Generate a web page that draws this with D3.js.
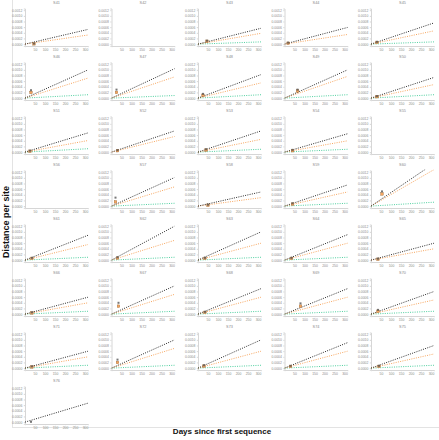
<!DOCTYPE html>
<html><head><meta charset="utf-8">
<script src="https://cdn.jsdelivr.net/npm/d3@7"></script>
<style>body{margin:0;background:#fff}svg{display:block}</style>
</head><body><svg id="c" width="439" height="440"></svg>
<script>
// ---- data ----
const samples = ["S41","S42","S43","S44","S45","S46","S47","S48","S49","S50",
  "S51","S52","S53","S54","S55","S56","S57","S58","S59","S60",
  "S61","S62","S63","S64","S65","S66","S67","S68","S69","S70",
  "S71","S72","S73","S74","S75","S76"];
// slopes: distance per site per day (x1e-6); null = no line
const rateBlack  = [1.65,null,1.78,1.87,2.38,3.17,3.30,2.64,3.17,2.32,
  2.16,2.38,2.38,2.06,null,null,3.21,1.59,2.38,4.80,
  2.79,3.81,3.17,2.86,1.90,1.90,3.17,2.86,2.86,2.54,
  1.90,3.17,3.17,2.86,2.54,2.13];
const rateOrange = [1.02,null,1.21,1.08,1.49,2.25,2.38,1.71,2.44,1.52,
  1.30,1.75,1.43,1.27,null,null,2.16,0.95,1.59,4.10,
  1.75,2.22,1.90,1.90,1.27,1.27,2.22,1.90,1.90,1.59,
  1.27,2.22,1.90,1.90,1.59,null];
const rateGreen  = [null,null,0.25,null,0.25,0.38,0.29,0.38,0.38,0.38,
  0.38,null,0.32,0.32,null,null,0.32,null,0.32,0.44,
  0.32,0.32,0.32,0.32,null,0.32,0.32,0.32,0.32,0.32,
  0.32,0.32,0.32,0.32,0.32,null];
// observed sample points (day, distance per site)
const pointDay    = [45,null,45,18,30,30,25,25,65,30, 25,30,40,40,null,null,20,50,40,55,
  35,30,35,35,35,35,35,35,80,35, 35,30,30,30,40,30];
const pointBlack  = [0.00002,null,0.00012,0.00005,0.00008,0.00028,0.0003,0.00015,0.0003,0.00007,
  0.00005,0.00007,0.0001,0.00008,null,null,0.0003,0.00005,0.0001,0.00052,
  0.00008,0.0001,0.00008,0.00008,0.00005,0.00006,0.0004,0.00008,0.00038,0.00015,
  0.00006,0.0003,0.0001,0.00008,0.00008,0.00001];
const pointOrange = [0.00001,null,0.0001,0.00003,0.00006,0.0002,0.0002,0.0001,0.00025,0.00005,
  0.00003,0.00005,0.00007,0.00005,null,null,0.00015,0.00003,0.00007,0.00043,
  0.00006,0.00007,0.00006,0.00006,0.00003,0.00004,0.00028,0.00006,0.00028,0.0001,
  0.00004,0.0002,0.00007,0.00006,0.00006,null];
const yTicks = [0,0.0002,0.0004,0.0006,0.0008,0.0010,0.0012];
const xTicks = [50,100,150,200,250,300];
const xMax = 315;

// ---- layout ----
const svg = d3.select("#c");
const ncol = 5, colPitch = 86.5, rowPitch = 54, x0 = 25, pw = 63;
const col = {black:"#2b2b2b", orange:"#f6a55e", green:"#4fcf9f", axis:"#d6d6d6", text:"#8a8a8a"};
const font = "Liberation Sans, Arial, sans-serif";

svg.append("line").attr("x1",12.5).attr("x2",12.5).attr("y1",0).attr("y2",427.5).attr("stroke","#e3e3e3");
svg.append("line").attr("x1",12).attr("x2",439).attr("y1",427.5).attr("y2",427.5).attr("stroke","#e3e3e3");

samples.forEach((s,i)=>{
  const c = i % ncol, r = Math.floor(i / ncol);
  const left = x0 + c*colPitch, top = r*rowPitch;
  const x = d3.scaleLinear().domain([0,xMax]).range([left, left+pw]);
  const y = d3.scaleLinear().domain([-0.00006,0.00126]).range([top+45.8, top+8.5]);
  const g = svg.append("g");
  const clipId = "clip"+i;
  g.append("clipPath").attr("id",clipId).append("rect")
    .attr("x",left).attr("y",top+7.5).attr("width",pw+1).attr("height",39);
  const ya = g.append("g").attr("transform",`translate(${left},0)`)
    .call(d3.axisLeft(y).tickValues(yTicks).tickFormat(d3.format(".4f")).tickSize(1.2).tickPadding(1.5));
  const xa = g.append("g").attr("transform",`translate(0,${top+46})`)
    .call(d3.axisBottom(x).tickValues(xTicks).tickSize(1.2).tickPadding(1.2));
  [ya,xa].forEach(a=>{
    a.select(".domain").attr("stroke",col.axis).attr("stroke-width",1);
    a.selectAll(".tick line").attr("stroke",col.axis);
    a.selectAll("text").attr("fill",col.text).attr("font-size",3.4).attr("font-family",font);
  });
  g.append("text").attr("x",left+pw/2).attr("y",top+3.8).attr("text-anchor","middle")
    .attr("fill",col.text).attr("font-size",3.8).attr("font-family",font).text(s);
  const plot = g.append("g").attr("clip-path",`url(#${clipId})`);
  [[rateGreen,col.green],[rateOrange,col.orange],[rateBlack,col.black]].forEach(([arr,cc])=>{
    const rt = arr[i]; if(rt==null) return;
    const line = d3.line().x(d=>x(d)).y(d=>y(d*rt*1e-6));
    plot.append("path").datum([0,xMax]).attr("d",line).attr("fill","none")
      .attr("stroke",cc).attr("stroke-width",1).attr("stroke-dasharray","1,1.3");
  });
  if(pointDay[i]!=null){
    if(pointOrange[i]!=null) plot.append("rect").attr("x",x(pointDay[i])-1.3).attr("y",y(pointOrange[i])-1.3)
      .attr("width",2.6).attr("height",2.6).attr("fill",col.orange).attr("stroke","#9a6a3a").attr("stroke-width",0.4);
    plot.append("rect").attr("x",x(pointDay[i])-1).attr("y",y(pointBlack[i])-1)
      .attr("width",2).attr("height",2).attr("fill","#555").attr("opacity",0.8);
  }
});
svg.append("text").attr("transform","translate(9,222) rotate(-90)").attr("text-anchor","middle")
  .attr("font-weight","bold").attr("font-size",9).attr("font-family",font).attr("fill","#111").text("Distance per site");
svg.append("text").attr("x",222).attr("y",434).attr("text-anchor","middle")
  .attr("font-weight","bold").attr("font-size",8).attr("font-family",font).attr("fill","#111").text("Days since first sequence");
</script></body></html>
